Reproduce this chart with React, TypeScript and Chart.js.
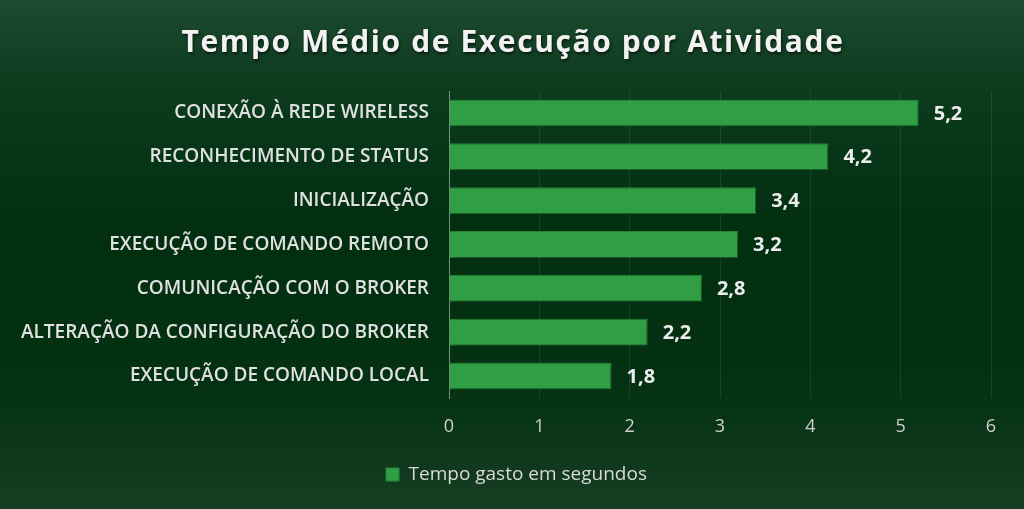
import React, { useEffect, useRef } from "react";
import { Chart, registerables } from "chart.js";

Chart.register(...registerables);

const chartTitle = "Tempo Médio de Execução por Atividade";
const categories = [
  "CONEXÃO À REDE WIRELESS",
  "RECONHECIMENTO DE STATUS",
  "INICIALIZAÇÃO",
  "EXECUÇÃO DE COMANDO REMOTO",
  "COMUNICAÇÃO COM O BROKER",
  "ALTERAÇÃO DA CONFIGURAÇÃO DO BROKER",
  "EXECUÇÃO DE COMANDO LOCAL",
];
const values = [5.2, 4.2, 3.4, 3.2, 2.8, 2.2, 1.8];
const seriesLabel = "Tempo gasto em segundos";
const xMin = 0;
const xMax = 6;
const xStep = 1;

const FONT = "'Open Sans', 'Noto Sans', sans-serif";
const BAR = "#2f9e44";
const BAR_BORDER = "#27893a";

const fmt = (v: number) => v.toFixed(1).replace(".", ",");

const bgPlugin = {
  id: "bg",
  beforeDraw(chart: any) {
    const { ctx, width, height } = chart;
    const g = ctx.createLinearGradient(0, 0, 0, height);
    g.addColorStop(0, "#1e4a2f");
    g.addColorStop(0.18, "#0b3a1d");
    g.addColorStop(0.45, "#022f10");
    g.addColorStop(0.75, "#033112");
    g.addColorStop(1, "#163d22");
    ctx.save();
    ctx.fillStyle = g;
    ctx.fillRect(0, 0, width, height);
    ctx.restore();
  },
};

const legendShiftPlugin = {
  id: "legendShift",
  afterLayout(chart: any) {
    const lg = chart.legend;
    if (lg) {
      lg.left += 21;
      lg.right += 21;
    }
  },
};

const titlePlugin = {
  id: "customTitle",
  afterDraw(chart: any) {
    const { ctx, width } = chart;
    ctx.save();
    ctx.font = `bold 30px ${FONT}`;
    (ctx as any).letterSpacing = "1.6px";
    ctx.textAlign = "center";
    ctx.textBaseline = "middle";
    ctx.shadowColor = "rgba(0,0,0,0.6)";
    ctx.shadowBlur = 3;
    ctx.shadowOffsetX = 1;
    ctx.shadowOffsetY = 2;
    ctx.fillStyle = "#f2f2f2";
    ctx.fillText(chartTitle, width / 2 + 1, 43);
    ctx.restore();
  },
};

const barShadowPlugin = {
  id: "barShadow",
  beforeDatasetDraw(chart: any) {
    const ctx = chart.ctx;
    ctx.save();
    ctx.shadowColor = "rgba(0,0,0,0.45)";
    ctx.shadowBlur = 6;
    ctx.shadowOffsetX = 2;
    ctx.shadowOffsetY = 3;
  },
  afterDatasetDraw(chart: any) {
    chart.ctx.restore();
  },
};

const dataLabelPlugin = {
  id: "dataLabels",
  afterDatasetsDraw(chart: any) {
    const { ctx } = chart;
    const meta = chart.getDatasetMeta(0);
    ctx.save();
    ctx.font = `bold 20px ${FONT}`;
    ctx.fillStyle = "#ececec";
    ctx.textAlign = "left";
    ctx.textBaseline = "middle";
    meta.data.forEach((el: any, i: number) => {
      const v = chart.data.datasets[0].data[i] as number;
      ctx.fillText(fmt(v), el.x + 15, el.y + 1);
    });
    ctx.restore();
  },
};

export default function App() {
  const ref = useRef<HTMLCanvasElement>(null);

  useEffect(() => {
    if (!ref.current) return;
    const chart = new Chart(ref.current, {
      type: "bar",
      data: {
        labels: categories,
        datasets: [
          {
            label: seriesLabel,
            data: values,
            backgroundColor: BAR,
            borderColor: BAR_BORDER,
            borderWidth: 1,
            barPercentage: 0.615,
            categoryPercentage: 1,
          },
        ],
      },
      options: {
        indexAxis: "y",
        responsive: false,
        animation: false,
        devicePixelRatio: 1,
        layout: { padding: { top: 91, right: 33, left: 0, bottom: 15 } },
        scales: {
          x: {
            min: xMin,
            max: xMax,
            ticks: {
              stepSize: xStep,
              color: "#d0d0d0",
              font: { family: FONT, size: 18 },
              padding: 18,
            },
            grid: { color: "rgba(255,255,255,0.09)", drawTicks: false },
            border: { display: false },
            afterFit(scale: any) {
              scale.height = 57;
            },
          },
          y: {
            ticks: {
              color: "#e0e0e0",
              font: { family: FONT, size: 19, weight: "600" },
              padding: 20,
            },
            grid: { display: false, drawTicks: false },
            border: { display: true, color: "rgba(200,210,200,0.55)", width: 1 },
            afterFit(scale: any) {
              scale.width = 449;
            },
          },
        },
        plugins: {
          title: { display: false },
          tooltip: { enabled: false },
          legend: {
            display: true,
            position: "bottom",
            labels: {
              color: "#d9d9d9",
              boxWidth: 13,
              boxHeight: 13,
              padding: 10,
              font: { family: FONT, size: 19 },
            },
          },
        },
      },
      plugins: [bgPlugin, legendShiftPlugin, barShadowPlugin, dataLabelPlugin, titlePlugin],
    } as any);
    return () => chart.destroy();
  }, []);

  return (
    <div style={{ position: "fixed", left: 0, top: 0, width: 1024, height: 509 }}>
      <canvas ref={ref} width={1024} height={509} style={{ display: "block" }} />
    </div>
  );
}
